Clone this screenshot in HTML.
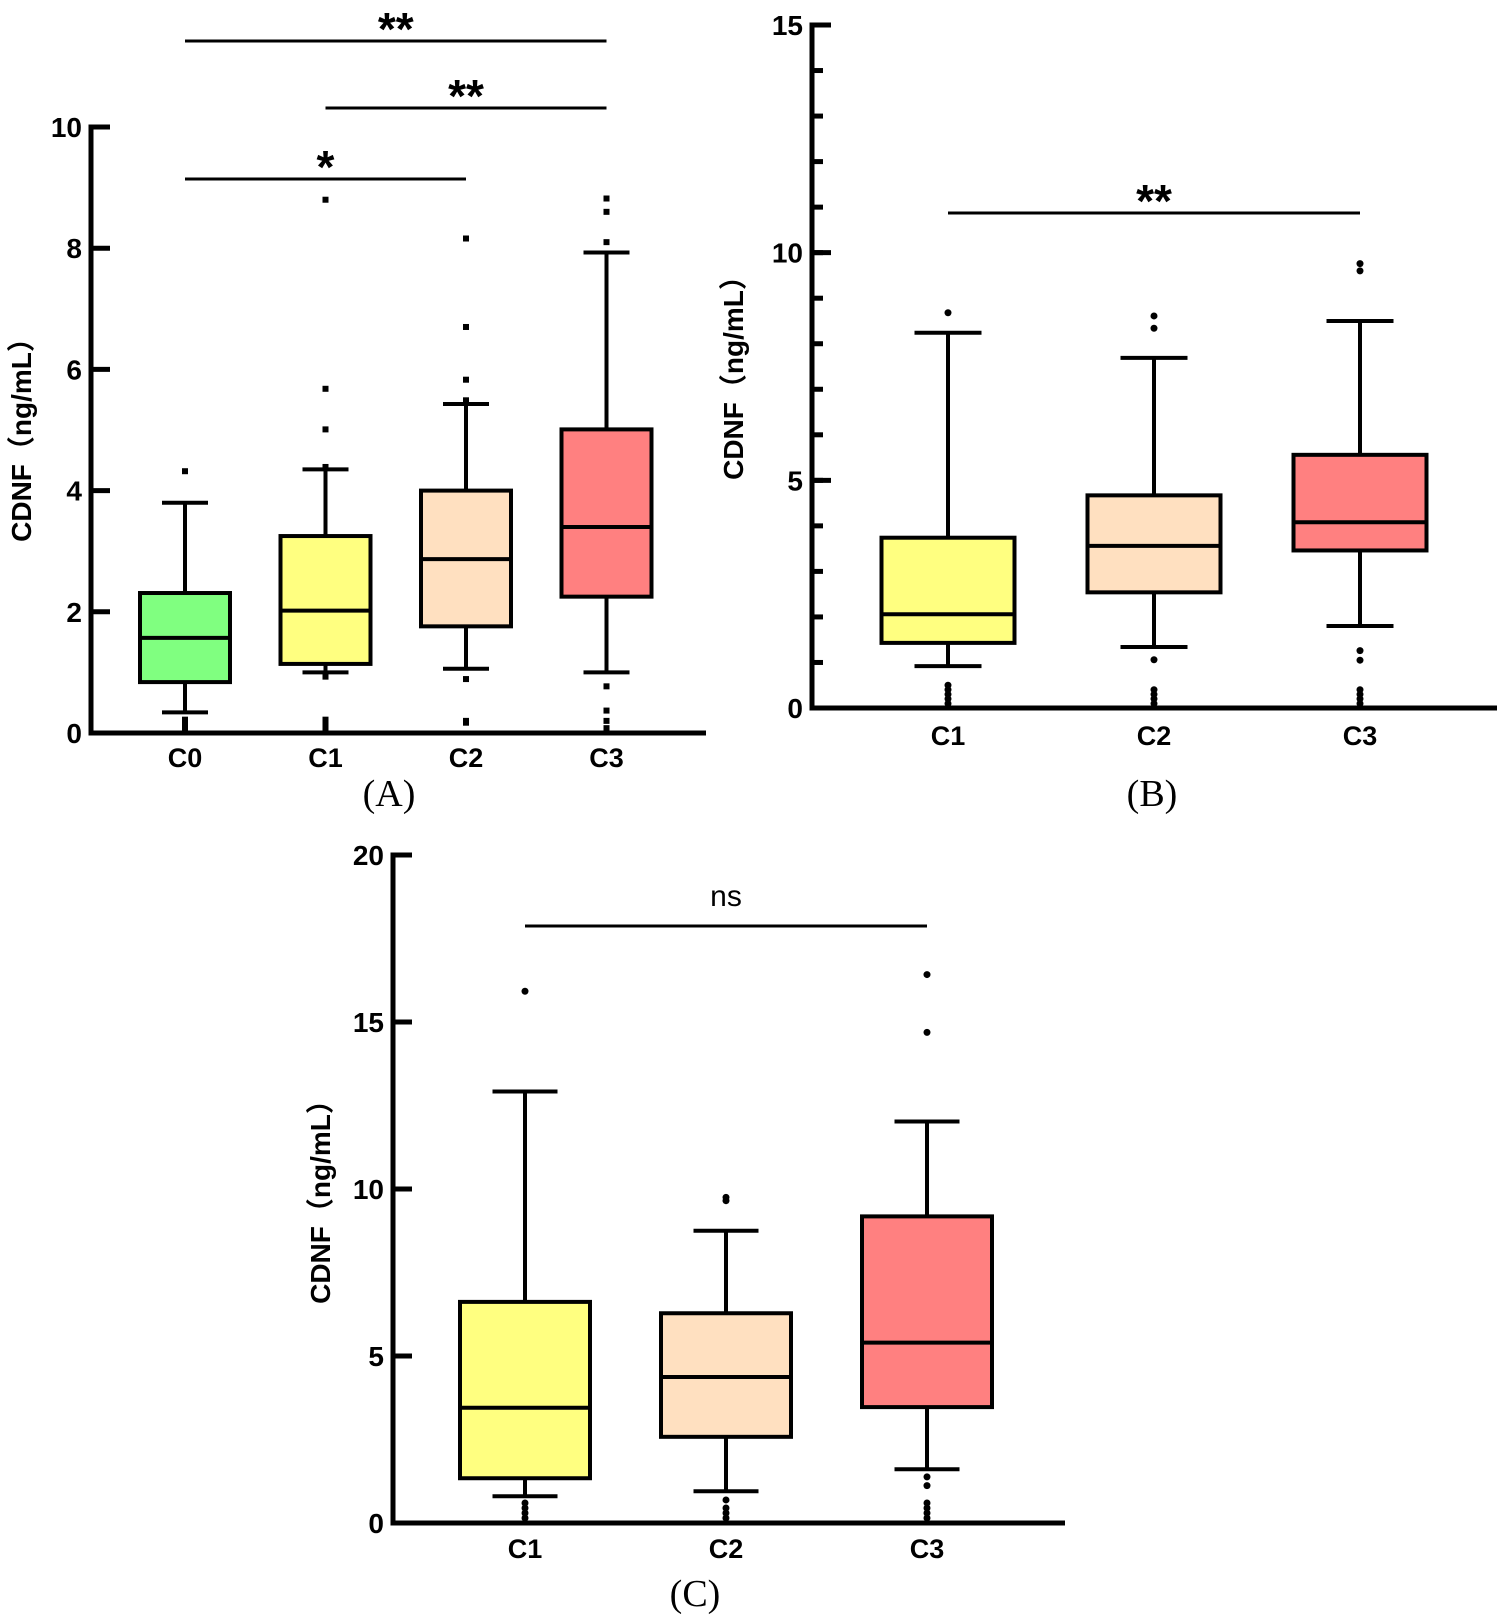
<!DOCTYPE html>
<html><head><meta charset="utf-8"><style>
html,body{margin:0;padding:0;background:#fff;}
svg{display:block;}
text{font-family:"Liberation Sans","Noto Sans CJK SC",sans-serif;}
</style></head><body>
<svg id="fig" width="1507" height="1621" viewBox="0 0 1507 1621"></svg>
<script>
// Panel A data
const catsA = ["C0","C1","C2","C3"];
const lowA = [0.34,1.0,1.06,1.0];
const q1A = [0.84,1.14,1.76,2.25];
const medA = [1.57,2.02,2.87,3.4];
const q3A = [2.31,3.25,4.0,5.01];
const highA = [3.8,4.35,5.43,7.93];
const outA = [[4.32,0.04,0.1,0.16,0.22],[8.8,5.68,5.01,4.39,0.93,0.04,0.1,0.16,0.22],[8.16,6.7,5.83,5.49,0.89,0.2,0.17],[8.82,8.6,8.1,0.77,0.37,0.2,0.08]];
const ticksA = [0,2,4,6,8,10];
// Panel B data
const catsB = ["C1","C2","C3"];
const lowB = [0.92,1.34,1.8];
const q1B = [1.43,2.54,3.46];
const medB = [2.06,3.56,4.08];
const q3B = [3.74,4.67,5.56];
const highB = [8.24,7.69,8.5];
const outB = [[8.68,0.5,0.4,0.3,0.2,0.1],[8.61,8.34,1.06,0.4,0.3,0.2,0.1],[9.76,9.6,1.26,1.05,0.4,0.3,0.2,0.1]];
const ticksB = [0,5,10,15];
// Panel C data
const catsC = ["C1","C2","C3"];
const lowC = [0.8,0.95,1.61];
const q1C = [1.34,2.58,3.47];
const medC = [3.45,4.37,5.4];
const q3C = [6.62,6.28,9.18];
const highC = [12.92,8.75,12.02];
const outC = [[15.92,0.6,0.45,0.3,0.15],[9.75,9.65,0.69,0.45,0.3,0.15],[16.42,14.69,1.38,1.12,0.6,0.45,0.3,0.15]];
const ticksC = [0,5,10,15,20];

const colors = {C0:"#80FF80",C1:"#FFFF80",C2:"#FFE0C0",C3:"#FF8080"};
const NS="http://www.w3.org/2000/svg";
const svg=document.getElementById('fig');
function mk(tag,attrs,parent){const e=document.createElementNS(NS,tag);for(const k in attrs)e.setAttribute(k,attrs[k]);(parent||svg).appendChild(e);return e;}

function panel(p){
  const g=mk('g',{});
  
  
  const y=v=>p.y0-(v/p.vmax)*(p.y0-p.ytop);
  const x=i=>p.x0c+i*p.dx;
  p.cats.forEach((c,i)=>{
    const cx=x(i),hw=p.bw/2,cw=p.cw/2;
    const w=mk('line',{x1:cx,x2:cx,y1:y(p.high[i]),y2:y(p.low[i]),stroke:'#000','stroke-width':4},g);
    
    
    [p.high[i],p.low[i]].forEach(v=>{
      const cap=mk('line',{x1:cx-cw,x2:cx+cw,y1:y(v),y2:y(v),stroke:'#000','stroke-width':4},g);
      
      
    });
    const r=mk('rect',{x:cx-hw,y:y(p.q3[i]),width:p.bw,height:y(p.q1[i])-y(p.q3[i]),fill:colors[c],stroke:'#000','stroke-width':4},g);
    
    
    const m=mk('line',{x1:cx-hw,x2:cx+hw,y1:y(p.med[i]),y2:y(p.med[i]),stroke:'#000','stroke-width':4},g);
    
    
    p.out[i].forEach(v=>{
      const o=p.square?mk('rect',{x:cx-3,y:y(v)-3,width:6,height:6,fill:'#000'},g):mk('circle',{cx:cx,cy:y(v),r:3.5,fill:'#000'},g);
      
      
    });
    const t=mk('text',{x:cx,y:p.xly,'text-anchor':'middle','font-size':27,'font-weight':'bold'},g);
    t.textContent=c;
    
    
  });
  const ya=mk('line',{x1:p.ax,x2:p.ax,y1:p.ytop-2.5,y2:p.y0+2.5,stroke:'#000','stroke-width':5},g);
  
  
  const xa=mk('line',{x1:p.ax-2.5,x2:p.xend,y1:p.y0,y2:p.y0,stroke:'#000','stroke-width':5},g);
  
  
  if(p.minor){for(let v=0;v<=p.vmax;v++){const mt=mk('line',{x1:p.ax,x2:p.ax+11,y1:y(v),y2:y(v),stroke:'#000','stroke-width':5},g);
    
    }}
  p.ticks.forEach(v=>{
    const tk=mk('line',{x1:p.ax,x2:p.ax+19,y1:y(v),y2:y(v),stroke:'#000','stroke-width':5},g);
    
    
    const tl=mk('text',{x:p.ax-9,y:y(v)+10,'text-anchor':'end','font-size':28,'font-weight':'bold'},g);
    tl.textContent=v;
    
    
  });
  const yl=mk('text',{x:p.ylx,y:p.yly,'text-anchor':'middle','font-size':28,'font-weight':'bold',transform:`rotate(-90 ${p.ylx} ${p.yly})`},g);
  yl.textContent='CDNF（ng/mL）';
  
  
  p.sig.forEach(s=>{
    const l=mk('line',{x1:x(s[0]),x2:x(s[1]),y1:s[2],y2:s[2],stroke:'#000','stroke-width':3},g);
    
    
    const ns=s[3]==='ns';
    const t=mk('text',{x:(x(s[0])+x(s[1]))/2,y:ns?s[2]-20:s[2]+4,'text-anchor':'middle','font-size':ns?30:46,'font-weight':ns?'normal':'bold'},g);
    t.textContent=s[3];
    
    
  });
  const pl=mk('text',{x:p.plx,y:p.ply,'text-anchor':'middle','font-size':38,style:'font-family:"Liberation Serif",serif'},g);
  pl.textContent=p.label;
  
  
}

panel({name:'panel-a',cats:catsA,low:lowA,q1:q1A,med:medA,q3:q3A,high:highA,out:outA,ticks:ticksA,
  vmax:10,ax:91,ytop:127,y0:733,x0c:185,dx:140.5,bw:90,cw:46,xend:706,square:true,minor:false,xly:767,
  ylx:31,yly:433,sig:[[0,3,41,'**'],[1,3,108,'**'],[0,2,179,'*']],plx:389,ply:806,label:'(A)'});
panel({name:'panel-b',cats:catsB,low:lowB,q1:q1B,med:medB,q3:q3B,high:highB,out:outB,ticks:ticksB,
  vmax:15,ax:812,ytop:25,y0:708,x0c:948,dx:206,bw:133,cw:67,xend:1497,square:false,minor:true,xly:745,
  ylx:743,yly:371,sig:[[0,2,213,'**']],plx:1152,ply:806,label:'(B)'});
panel({name:'panel-c',cats:catsC,low:lowC,q1:q1C,med:medC,q3:q3C,high:highC,out:outC,ticks:ticksC,
  vmax:20,ax:393,ytop:855,y0:1523,x0c:525,dx:201,bw:130,cw:65,xend:1065,square:false,minor:false,xly:1558,
  ylx:330,yly:1195,sig:[[0,2,926,'ns']],plx:695,ply:1606,label:'(C)'});
</script>
</body></html>
